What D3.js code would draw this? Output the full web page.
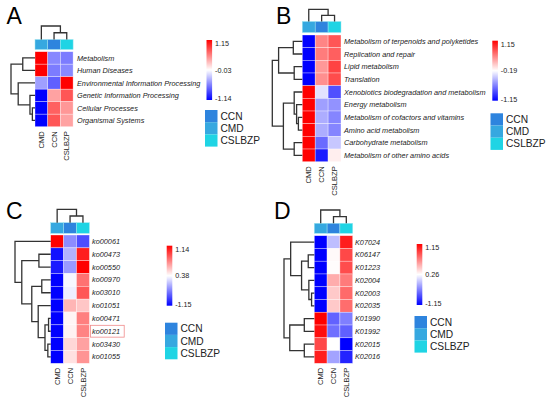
<!DOCTYPE html>
<html>
<head>
<meta charset="utf-8">
<script src="https://cdn.jsdelivr.net/npm/d3@7"></script>
<style>
  body { margin: 0; background: #fff; }
  svg { display: block; font-family: "Liberation Sans", Arial, sans-serif; }
</style>
</head>
<body>
<svg id="chart" width="550" height="401"></svg>
<script>
// heatmap columns and the sample groups of the annotation bar
const columns = ["CMD", "CCN", "CSLBZP"];
const groups = ["CCN", "CMD", "CSLBZP"];

// A - level 1 pathways
const rowsA = ["Metabolism", "Human Diseases", "Environmental Information Processing",
  "Genetic Information Processing", "Cellular Processes", "Organismal Systems"];
const valuesA = [
  [1.15, -0.55, -0.60],
  [1.15, -0.60, -0.55],
  [-0.45, -0.72, 1.15],
  [-1.14, 0.40, 0.75],
  [-1.14, 0.70, 0.45],
  [-1.14, 0.75, 0.40]
];
const rangeA = [-1.14, -0.03, 1.15];
// tree nodes: [height, left, right], leaves are row indexes
const treeA = [1, [0.51, 0, 1], [0.70, 2, [0.21, 3, [0.11, 4, 5]]]];

// B - level 2 pathways
const rowsB = ["Metabolism of terpenoids and polyketides", "Replication and repair",
  "Lipid metabolism", "Translation", "Xenobiotics biodegradation and metabolism",
  "Energy metabolism", "Metabolism of cofactors and vitamins", "Amino acid metabolism",
  "Carbohydrate metabolism", "Metabolism of other amino acids"];
const valuesB = [
  [-1.15, 0.45, 0.70],
  [-1.15, 0.50, 0.65],
  [-1.15, 0.35, 0.80],
  [-1.15, 0.40, 0.75],
  [1.15, -0.30, -0.85],
  [1.15, -0.55, -0.60],
  [1.15, -0.50, -0.65],
  [1.15, -0.50, -0.65],
  [1.15, -0.75, -0.40],
  [1.15, -1.05, -0.10]
];
const rangeB = [-1.15, -0.19, 1.15];
const treeB = [1, [0.79, [0.30, 0, 1], [0.27, 2, 3]],
  [0.63, [0.27, 4, [0.19, 5, [0.13, 6, 7]]], [0.27, 8, 9]]];

// C - level 3 pathways
const rowsC = ["ko00061", "ko00473", "ko00550", "ko00970", "ko03010",
  "ko01051", "ko00471", "ko00121", "ko03430", "ko01055"];
const valuesC = [
  [1.14, -0.31, -0.69],
  [-1.05, -0.08, 1.05],
  [-1.00, -0.23, 1.14],
  [-1.15, 0.33, 0.80],
  [-1.15, 0.28, 0.88],
  [-1.15, 0.60, 0.55],
  [-1.15, 0.41, 0.76],
  [-1.15, 0.42, 0.75],
  [-1.15, 0.50, 0.66],
  [-1.15, 0.47, 0.70]
];
const rangeC = [-1.15, 0.38, 1.14];
const treeC = [1, 0, [0.81, [0.33, 1, 2],
  [0.53, [0.25, 3, 4], [0.35, 5, [0.16, [0.06, 6, 7], [0.08, 8, 9]]]]]];
const highlightC = "ko00121";

// D - KO genes
const rowsD = ["K07024", "K06147", "K01223", "K02004", "K02003",
  "K02035", "K01990", "K01992", "K02015", "K02016"];
const valuesD = [
  [-1.15, -0.10, 1.05],
  [-1.15, 0.28, 0.90],
  [-1.15, 0.27, 0.88],
  [-1.15, 0.55, 0.72],
  [-1.15, 0.45, 0.78],
  [-1.15, 0.45, 0.77],
  [1.15, -0.61, -0.45],
  [1.10, -0.53, -0.62],
  [0.90, 0.26, -1.15],
  [1.05, -0.25, -0.95]
];
const rangeD = [-1.15, 0.26, 1.15];
const treeD = [1, [0.78, 0, [0.42, [0.20, 1, 2], [0.18, 3, [0.09, 4, 5]]]],
  [0.81, [0.33, 6, 7], [0.33, 8, 9]]];

// column tree is the same in every panel: CMD apart from CCN + CSLBZP
const colTree = [1, 0, [0.5, 1, 2]];

const groupColor = d3.scaleOrdinal()
  .domain(groups)
  .range(["#2e84de", "#36a8e0", "#1fd4e4"]);

const svg = d3.select("#chart");
const defs = svg.append("defs");

const grad = defs.append("linearGradient")
  .attr("id", "barGrad")
  .attr("x1", 0).attr("y1", 1).attr("x2", 0).attr("y2", 0);
grad.append("stop").attr("offset", "0%").attr("stop-color", "#0000ff");
grad.append("stop").attr("offset", "50%").attr("stop-color", "#ffffff");
grad.append("stop").attr("offset", "100%").attr("stop-color", "#ff0000");

function drawPanel(p) {
  const g = svg.append("g");
  const x = d3.scaleBand().domain(columns).range([p.x0, p.x0 + p.cw * columns.length]);
  const y = d3.scaleBand().domain(p.rows).range([p.y0, p.y1]);
  const color = d3.scaleLinear().domain(p.range).range(["#0000ff", "#ffffff", "#ff0000"]);

  // cells
  p.values.forEach((row, i) => {
    g.selectAll(null)
      .data(row)
      .enter()
      .append("rect")
      .attr("x", (d, j) => x(columns[j]))
      .attr("y", y(p.rows[i]))
      .attr("width", x.bandwidth())
      .attr("height", y.bandwidth())
      .attr("fill", d => color(d))
      .attr("stroke", "#ffffff")
      .attr("stroke-opacity", 0.55)
      .attr("stroke-width", 0.6);
  });

  // annotation bar
  g.selectAll(null)
    .data(columns)
    .enter()
    .append("rect")
    .attr("x", d => x(d))
    .attr("y", p.annTop)
    .attr("width", x.bandwidth())
    .attr("height", p.annH)
    .attr("fill", d => groupColor(d))
    .attr("stroke", "#9ee6f0")
    .attr("stroke-width", 0.5);

  // row dendrogram
  const hx = d3.scaleLinear().domain([0, 1]).range([p.x0, p.rootX]);
  function rowNode(n) {
    if (typeof n === "number") return [p.x0, y(p.rows[n]) + y.bandwidth() / 2];
    const a = rowNode(n[1]), b = rowNode(n[2]);
    const nx = hx(n[0]);
    g.append("path")
      .attr("d", `M${a[0]},${a[1]}H${nx}V${b[1]}H${b[0]}`)
      .attr("fill", "none")
      .attr("stroke", "#333")
      .attr("stroke-width", 1.3);
    return [nx, (a[1] + b[1]) / 2];
  }
  rowNode(p.tree);

  // column dendrogram
  const hy = d3.scaleLinear().domain([0, 1]).range([p.annTop, p.colRootY]);
  function colNode(n) {
    if (typeof n === "number") return [x(columns[n]) + x.bandwidth() / 2, p.annTop];
    const a = colNode(n[1]), b = colNode(n[2]);
    const ny = hy(n[0]);
    g.append("path")
      .attr("d", `M${a[0]},${a[1]}V${ny}H${b[0]}V${b[1]}`)
      .attr("fill", "none")
      .attr("stroke", "#333")
      .attr("stroke-width", 1.3);
    return [(a[0] + b[0]) / 2, ny];
  }
  colNode(colTree);

  // row labels
  g.selectAll(null)
    .data(p.rows)
    .enter()
    .append("text")
    .attr("x", p.labelX)
    .attr("y", d => y(d) + y.bandwidth() / 2)
    .attr("dy", "0.35em")
    .attr("font-size", "7.3px")
    .attr("font-style", "italic")
    .attr("fill", "#222")
    .text(d => d);

  if (p.highlight) {
    const w = p.highlight.length * 4.1 + 5;
    g.append("rect")
      .attr("x", p.labelX - 1.5)
      .attr("y", y(p.highlight) + 0.5)
      .attr("width", w)
      .attr("height", y.bandwidth() - 1)
      .attr("fill", "none")
      .attr("stroke", "#f08a8a")
      .attr("stroke-width", 0.8);
  }

  // column labels
  g.selectAll(null)
    .data(columns)
    .enter()
    .append("text")
    .attr("transform", d => `translate(${x(d) + x.bandwidth() / 2},${p.y1 + 4.5}) rotate(-90)`)
    .attr("dy", "0.35em")
    .attr("text-anchor", "end")
    .attr("font-size", "7.6px")
    .attr("fill", "#222")
    .text(d => d);

  // colour bar
  const cb = p.bar;
  g.append("rect")
    .attr("x", cb.x)
    .attr("y", cb.top)
    .attr("width", 5.6)
    .attr("height", cb.bottom - cb.top)
    .attr("fill", "url(#barGrad)");
  const by = d3.scaleLinear().domain(p.range).range([cb.bottom, (cb.top + cb.bottom) / 2, cb.top]);
  g.selectAll(null)
    .data(p.range)
    .enter()
    .append("text")
    .attr("x", cb.x + 8.5)
    .attr("y", d => Math.min(Math.max(by(d), cb.top + 3.3), cb.bottom - 1.7))
    .attr("dy", "0.35em")
    .attr("font-size", "7.2px")
    .attr("fill", "#222")
    .text(d => d.toFixed(2));

  // group legend
  const lg = p.legend;
  g.selectAll(null)
    .data(groups)
    .enter()
    .append("rect")
    .attr("x", lg.x)
    .attr("y", (d, i) => lg.y + i * 12.2)
    .attr("width", 12.5)
    .attr("height", 12.2)
    .attr("fill", d => groupColor(d));
  g.selectAll(null)
    .data(groups)
    .enter()
    .append("text")
    .attr("x", lg.x + 15.5)
    .attr("y", (d, i) => lg.y + i * 12.2 + 6.1)
    .attr("dy", "0.36em")
    .attr("font-size", "10.2px")
    .attr("fill", "#222")
    .text(d => d);

  svg.append("text")
    .attr("x", p.letter[0])
    .attr("y", p.letter[1])
    .attr("font-size", "23px")
    .attr("fill", "#000")
    .text(p.name);
}

drawPanel({
  name: "A", letter: [6.5, 24], rows: rowsA, values: valuesA, range: rangeA, tree: treeA,
  x0: 35, cw: 12.7, y0: 51.7, y1: 126.7, annTop: 39.5, annH: 10, colRootY: 26,
  rootX: 11, labelX: 77, bar: { x: 206.5, top: 40, bottom: 100 }, legend: { x: 205, y: 110 }
});
drawPanel({
  name: "B", letter: [276, 23.5], rows: rowsB, values: valuesB, range: rangeB, tree: treeB,
  x0: 302.3, cw: 12.9, y0: 35, y1: 161.7, annTop: 21.5, annH: 11, colRootY: 9.3,
  rootX: 272.3, labelX: 344, bar: { x: 492.3, top: 40.7, bottom: 100.7 }, legend: { x: 490.5, y: 113.3 }
});
drawPanel({
  name: "C", letter: [6, 218.5], rows: rowsC, values: valuesC, range: rangeC, tree: treeC,
  x0: 50.7, cw: 12.9, y0: 235, y1: 363.3, annTop: 222.7, annH: 10.6, colRootY: 209.3,
  rootX: 15, labelX: 92, bar: { x: 166.7, top: 245.7, bottom: 305.7 }, legend: { x: 165, y: 322.7 },
  highlight: highlightC
});
drawPanel({
  name: "D", letter: [274, 218.5], rows: rowsD, values: valuesD, range: rangeD, tree: treeD,
  x0: 314.3, cw: 12.8, y0: 235.7, y1: 363.3, annTop: 223.3, annH: 10, colRootY: 210,
  rootX: 284, labelX: 355, bar: { x: 416.7, top: 244, bottom: 305 }, legend: { x: 414.5, y: 316 }
});
</script>
</body>
</html>
